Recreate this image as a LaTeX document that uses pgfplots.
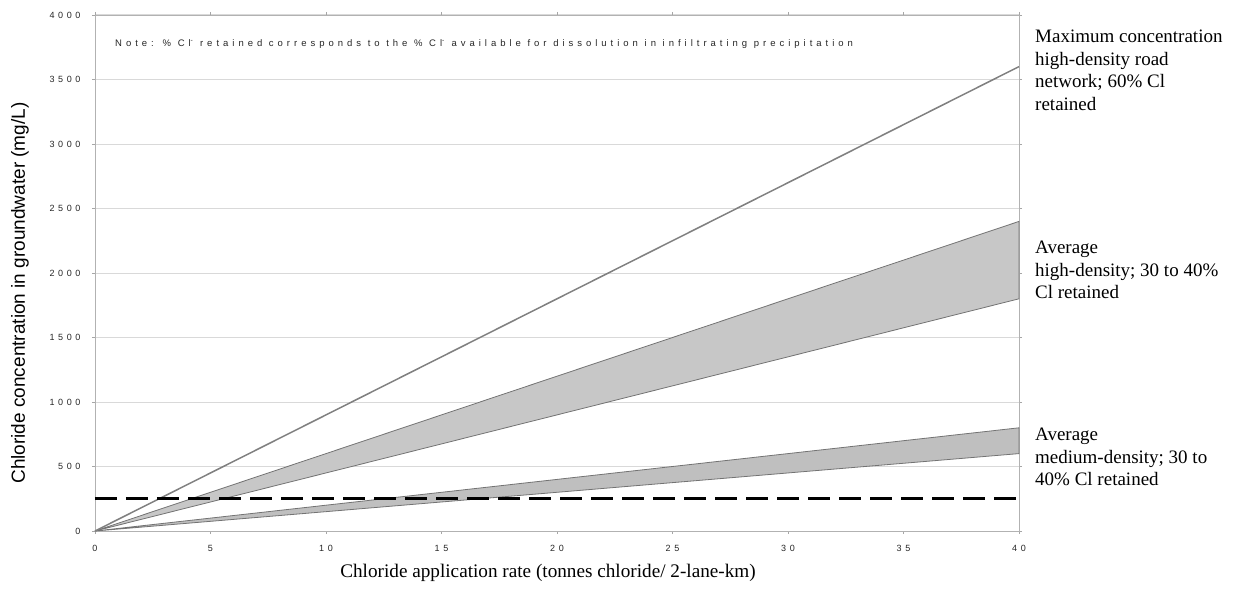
\documentclass[border=0pt]{standalone}
\usepackage{pgfplots}
\pgfplotsset{compat=1.18}
\usepackage{fontspec}
\setmainfont{Liberation Serif}
\newfontfamily\arial{Liberation Sans}
\newfontfamily\arialsp[LetterSpace=40]{Liberation Sans}
\newfontfamily\arialnote[LetterSpace=42]{Liberation Sans}
\begin{document}
\begin{tikzpicture}
\path[use as bounding box] (-95pt,-59pt) rectangle (1144pt,531pt);
\begin{axis}[
  at={(0pt,0pt)}, anchor=south west,
  width=924pt, height=516pt, scale only axis,
  xmin=0, xmax=40, ymin=0, ymax=4000,
  xtick={0,5,...,40}, ytick={0,500,...,4000},
  ymajorgrids, major grid style={black!15, line width=1pt},
  axis line style={black!30, line width=0.8pt},
  tick style={black!35, line width=0.6pt},
  tick align=outside, major tick length=3pt,
  /pgf/number format/assume math mode=true,
  /pgf/number format/set thousands separator={},
  xticklabel style={font=\arialsp\fontsize{9}{10}\selectfont, text=black!85, yshift=-8pt},
  yticklabel style={font=\arialsp\fontsize{9}{10}\selectfont, text=black!85, xshift=-8pt},
  clip=false,
]
\addplot[fill=black!22, draw=black!55, line width=0.8pt] coordinates {(0,0) (40,2400) (40,1800)} -- cycle;
\addplot[fill=black!25, draw=black!55, line width=0.8pt] coordinates {(0,0) (40,800) (40,600)} -- cycle;
\addplot[black!50, line width=1.5pt] coordinates {(0,0) (40,3600)};
\addplot[black, line width=3pt, dash pattern=on 22pt off 9pt] coordinates {(0,250) (40,250)};
\end{axis}
\node[anchor=west, inner sep=0pt, font=\arialnote\fontsize{9.5}{11}\selectfont, text=black!85] at (20pt,487pt)
  {Note: \% Cl\textsuperscript{-} retained corresponds to the \% Cl\textsuperscript{-} available for dissolution in infiltrating precipitation};
\node[font=\fontsize{19.2}{22}\selectfont] at (453pt,-42pt) {Chloride application rate (tonnes chloride/ 2-lane-km)};
\node[rotate=90, font=\arial\fontsize{19}{22}\selectfont] at (-75pt,238pt) {Chloride concentration in groundwater (mg/L)};
\node[anchor=north west, inner sep=0pt, align=left, font=\fontsize{19}{22.5}\selectfont] at (940pt,501pt)
  {Maximum concentration\\high-density road\\network; 60\% Cl\\retained};
\node[anchor=north west, inner sep=0pt, align=left, font=\fontsize{19}{22.5}\selectfont] at (940pt,290pt)
  {Average\\high-density; 30 to 40\%\\Cl retained};
\node[anchor=north west, inner sep=0pt, align=left, font=\fontsize{19}{22.5}\selectfont] at (940pt,103pt)
  {Average\\medium-density; 30 to\\40\% Cl retained};
\end{tikzpicture}
\end{document}
